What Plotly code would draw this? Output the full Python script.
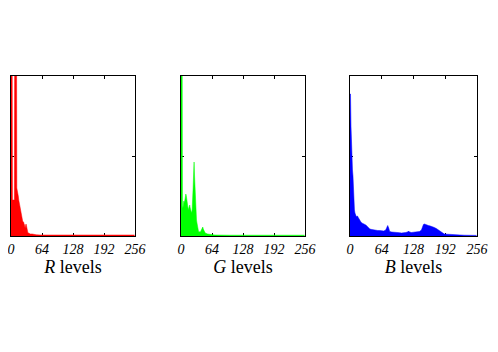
import plotly.graph_objects as go

# histogram values (arbitrary count units, 160 = top of the box)
r_levels = [0, 1, 2, 3, 4, 5, 6, 7, 8, 9, 10, 11, 12, 13, 14, 15, 16, 17, 18, 19, 20,
            21, 22, 23, 24, 25, 26, 27, 28, 29, 30, 31, 32, 33, 34, 35, 36, 38, 40, 44,
            48, 52, 60, 80, 120, 160, 200, 255]
r_counts = [300, 300, 300, 36, 36, 36, 36, 36, 300, 300, 300, 300, 48, 46, 44, 40, 36,
            33, 30, 28, 26, 22, 18, 16, 15, 14, 14, 12, 11, 8, 10, 12, 10, 6, 4, 3, 3,
            2.5, 2, 2, 1.5, 1.2, 1, 1, 1, 1, 1, 1]

g_levels = [0, 1, 2, 3, 4, 5, 6, 7, 8, 9, 10, 11, 12, 13, 14, 15, 16, 17, 18, 19, 20,
            21, 22, 23, 24, 25, 26, 27, 28, 29, 30, 31, 32, 33, 34, 35, 36, 37, 38, 40,
            42, 44, 45, 46, 48, 50, 55, 60, 70, 100, 150, 200, 255]
g_counts = [300, 300, 300, 30, 28, 32, 35, 33, 36, 40, 42, 40, 36, 32, 28, 26, 28, 30,
            31, 28, 25, 23, 23, 26, 34, 48, 62, 74, 60, 42, 33, 22, 16, 13, 9, 6, 5, 4.3,
            4, 4, 6, 9, 9, 7, 4, 3, 2, 1.5, 1, 0.8, 0.8, 0.8, 0.8]

b_levels = [0, 1, 2, 3, 4, 5, 6, 7, 8, 9, 10, 11, 12, 13, 14, 15, 16, 18, 20, 22, 24,
            26, 28, 30, 32, 36, 40, 44, 48, 52, 56, 60, 64, 68, 72, 74, 76, 78, 80, 84,
            88, 92, 96, 100, 104, 108, 112, 116, 118, 120, 124, 128, 132, 136, 140, 144,
            146, 148, 150, 154, 158, 162, 166, 170, 174, 178, 182, 186, 190, 196, 204,
            216, 230, 255]
b_counts = [142, 142, 110, 85, 72, 66, 60, 45, 32, 26, 23, 21, 19, 19, 20, 20, 19, 17,
            15, 14, 13, 12.5, 12, 11.5, 11, 9, 7, 6.5, 6, 6, 5.5, 5.5, 5, 5, 6, 8, 10.5,
            8, 4.5, 4, 4, 3.8, 3.5, 3.3, 3, 3, 3.5, 4, 5, 4, 3.5, 3.8, 4, 3.8, 4.5, 6, 9,
            11.5, 12, 11, 10.5, 10, 9.5, 8.5, 7.5, 6, 4.5, 3, 2, 1.8, 1.5, 1.2, 0.8, 0.6]

channels = ['R', 'G', 'B']
colors = ['#ff0000', '#00ff00', '#0000ff']
tick_vals = [0, 64, 128, 192, 256]

# the page body has an 8 px margin, so the figure is sized to fit inside it
W, H, OFF = 482, 336, 8
px_x = [(11, 135), (181, 305), (350, 477)]
domains = [[(a - OFF) / W, (b - OFF) / W] for a, b in px_x]
y_domain = [(OFF + H - 236) / H, (OFF + H - 76) / H]

fig = go.Figure()
series = [(r_levels, r_counts), (g_levels, g_counts), (b_levels, b_counts)]
for i, ((lv, ct), col) in enumerate(zip(series, colors)):
    suffix = '' if i == 0 else str(i + 1)
    fig.add_trace(go.Scatter(
        x=lv, y=ct, mode='lines', fill='tozeroy',
        line=dict(color=col, width=0.5), fillcolor=col,
        xaxis='x' + suffix, yaxis='y' + suffix, hoverinfo='skip'
    ))

layout = dict(
    width=W, height=H,
    margin=dict(l=0, r=0, t=0, b=0),
    paper_bgcolor='white', plot_bgcolor='white',
    showlegend=False,
)
for i, ch in enumerate(channels):
    suffix = '' if i == 0 else str(i + 1)
    layout['xaxis' + suffix] = dict(
        domain=domains[i], range=[0, 256], anchor='y' + suffix, automargin=False,
        tickvals=tick_vals, ticktext=[str(v) for v in tick_vals],
        ticklabeloverflow='allow',
        ticks='inside', ticklen=3, tickcolor='black', mirror='allticks',
        showline=True, linecolor='black', linewidth=1, showgrid=False,
        zeroline=False, layer='below traces',
        tickfont=dict(family='Liberation Serif', size=14, color='black', style='italic'),
        title=dict(text='<i>%s</i> levels' % ch, standoff=3,
                   font=dict(family='Liberation Serif', size=18, color='black')),
    )
    layout['yaxis' + suffix] = dict(
        domain=y_domain, range=[0, 160], anchor='x' + suffix,
        automargin=False, tickvals=[80], showticklabels=False,
        ticks='inside', ticklen=3, tickcolor='black', mirror='allticks',
        showline=True, linecolor='black', linewidth=1, showgrid=False,
        zeroline=False, layer='below traces',
    )
fig.update_layout(**layout)

fig.write_html("out.html")
